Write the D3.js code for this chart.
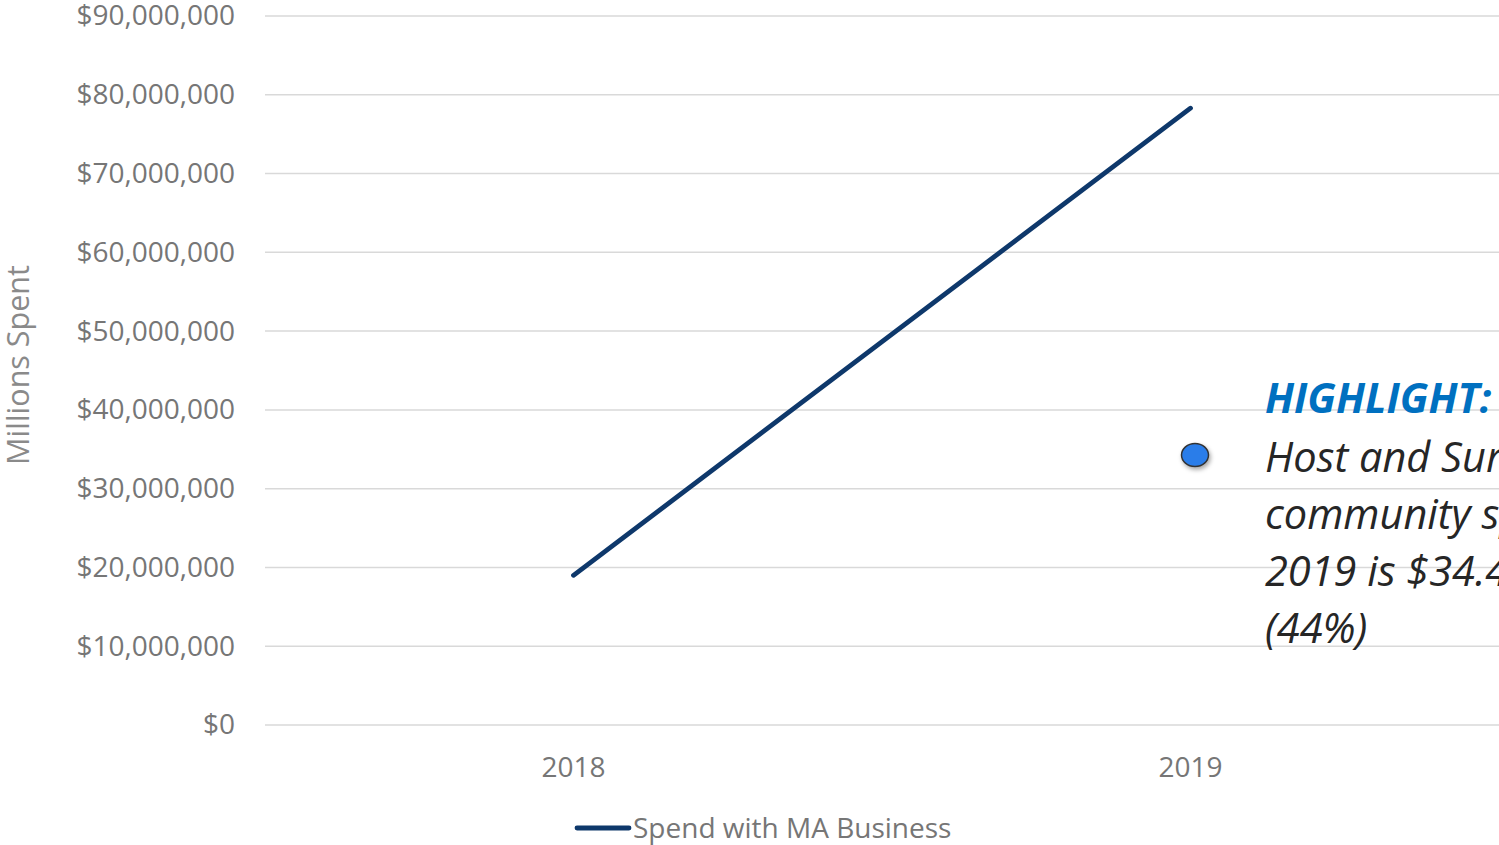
<!DOCTYPE html>
<html>
<head>
<meta charset="utf-8">
<script src="https://cdn.jsdelivr.net/npm/d3@7"></script>
<style>
  html, body { margin: 0; padding: 0; background: #fff; overflow: hidden; }
  svg { display: block; font-family: "Open Sans", "Noto Sans", sans-serif; }
</style>
</head>
<body>
<svg id="chart" width="1499" height="845"></svg>
<script>
const categories = ["2018", "2019"];
const spendValues = [19000000, 78300000];
const yTicks = [0, 10000000, 20000000, 30000000, 40000000, 50000000, 60000000, 70000000, 80000000, 90000000];
const seriesName = "Spend with MA Business";
const axisTitle = "Millions Spent";
const highlightTitle = "HIGHLIGHT:";
const highlightLines = ["Host and Surrounding", "community spend in", "2019 is $34.4M", "(44%)"];

(function () {
const svg = d3.select("#chart");
const plotLeft = 265, plotRight = 1499, plotTop = 16, plotBottom = 725;

const x = d3.scaleBand().domain(categories).range([plotLeft, plotRight]).padding(0);
const y = d3.scaleLinear().domain([0, 90000000]).range([plotBottom, plotTop]);
const fmt = d => "$" + d3.format(",")(d);

// defs
const defs = svg.append("defs");
const f = defs.append("filter").attr("id", "shadow").attr("x", "-50%").attr("y", "-50%").attr("width", "200%").attr("height", "200%");
f.append("feDropShadow").attr("dx", 1.5).attr("dy", 2.5).attr("stdDeviation", 2).attr("flood-color", "#000").attr("flood-opacity", 0.35);

// gridlines
svg.append("g").selectAll("line").data(yTicks).join("line")
  .attr("x1", plotLeft).attr("x2", plotRight)
  .attr("y1", d => y(d)).attr("y2", d => y(d))
  .attr("stroke", "#d9d9d9").attr("stroke-width", 1.5);

// y axis
const yAxis = svg.append("g").attr("transform", `translate(${plotLeft},0)`)
  .call(d3.axisLeft(y).tickValues(yTicks).tickFormat(fmt).tickSize(0).tickPadding(30));
yAxis.select(".domain").remove();
yAxis.selectAll("text").attr("font-family", "'Open Sans', sans-serif").attr("font-size", 28).attr("fill", "#767676");

// x axis
const xAxis = svg.append("g").attr("transform", `translate(0,${plotBottom})`)
  .call(d3.axisBottom(x).tickSize(0).tickPadding(32));
xAxis.select(".domain").remove();
xAxis.selectAll("text").attr("font-family", "'Open Sans', sans-serif").attr("font-size", 28).attr("fill", "#767676");

// axis title
svg.append("text")
  .attr("transform", "translate(29,365) rotate(-90)")
  .attr("text-anchor", "middle")
  .attr("font-size", 30.5).attr("fill", "#8a8a8a")
  .text(axisTitle);

// line
const data = categories.map((c, i) => ({ c, v: spendValues[i] }));
svg.append("path").datum(data)
  .attr("fill", "none").attr("stroke", "#0e386b").attr("stroke-width", 4.8)
  .attr("stroke-linecap", "round").attr("stroke-linejoin", "round")
  .attr("d", d3.line().x(d => x(d.c) + x.bandwidth() / 2).y(d => y(d.v)));

// legend
const lg = svg.append("g");
lg.append("line").attr("x1", 577).attr("x2", 629).attr("y1", 828).attr("y2", 828)
  .attr("stroke", "#0e386b").attr("stroke-width", 4.8).attr("stroke-linecap", "round");
lg.append("text").attr("x", 633).attr("y", 838).attr("font-size", 28).attr("fill", "#767676").text(seriesName);

// highlight annotation
svg.append("ellipse").attr("cx", 1195).attr("cy", 455).attr("rx", 13.5).attr("ry", 11.5)
  .attr("fill", "#2b7de9").attr("stroke", "#333").attr("stroke-width", 1.5).attr("filter", "url(#shadow)");
svg.append("text").attr("x", 1265).attr("y", 413)
  .attr("font-size", 41.5).attr("font-weight", "bold").attr("font-style", "italic").attr("fill", "#0070c0")
  .text(highlightTitle);
svg.append("g").selectAll("text").data(highlightLines).join("text")
  .attr("x", 1265).attr("y", (d, i) => 472 + i * 57)
  .attr("font-size", 41.5).attr("font-style", "italic").attr("fill", "#262626")
  .text(d => d);
})();
</script>
</body>
</html>
